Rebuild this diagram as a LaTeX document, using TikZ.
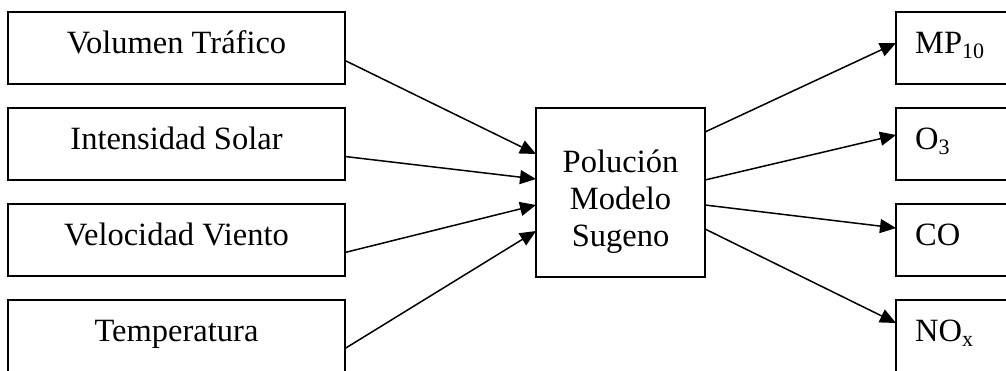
\documentclass[tikz,border=0pt]{standalone}
\usepackage{fontspec}
\setmainfont{Liberation Serif}
\usetikzlibrary{arrows.meta,calc}
% lowered, smaller index text (chemical formulas)
\newcommand{\lowidx}[1]{\raisebox{-5pt}{\fontsize{22}{22}\selectfont #1}}
\begin{document}
\begin{tikzpicture}[x=1pt,y=-1pt,
  box/.style={draw, line width=1.8pt, rectangle, inner sep=0pt, outer sep=0pt, anchor=north west},
  inbox/.style={box, minimum width=337pt, minimum height=72pt},
  outbox/.style={box, minimum width=130pt, minimum height=72pt},
  lbl/.style={anchor=base, inner sep=0pt, font=\fontsize{32.5}{37}\selectfont},
  conn/.style={line width=1.5pt, -{Triangle[length=16pt 0 0,width=14pt 0 0]}}]
\useasboundingbox (0,0) rectangle (1006,370);
\clip (0,0) rectangle (1006,370);

% input variables
\node[inbox] (in1) at (8,12) {};
\node[inbox] (in2) at (8,108) {};
\node[inbox] (in3) at (8,204) {};
\node[inbox] (in4) at (8,300) {};
\node[lbl] (tin1) at ([yshift=-41pt]in1.north) {Volumen Tráfico};
\node[lbl] (tin2) at ([yshift=-41pt]in2.north) {Intensidad Solar};
\node[lbl] (tin3) at ([yshift=-41pt]in3.north) {Velocidad Viento};
\node[lbl] (tin4) at ([yshift=-41pt]in4.north) {Temperatura};

% model
\node[box, minimum width=169pt, minimum height=169pt] (mdl) at (536,108) {};
\node[inner sep=0pt, align=center, font=\fontsize{32.5}{37}\selectfont] (tmdl)
  at ([yshift=-9pt]mdl.center) {Polución\\Modelo\\Sugeno};

% outputs
\node[outbox] (out1) at (896,12) {};
\node[outbox] (out2) at (896,108) {};
\node[outbox] (out3) at (896,204) {};
\node[outbox] (out4) at (896,300) {};
\node[lbl, anchor=base west] (tout1) at ([xshift=19pt,yshift=-41pt]out1.north west) {MP\lowidx{10}};
\node[lbl, anchor=base west] (tout2) at ([xshift=19pt,yshift=-41pt]out2.north west) {O\lowidx{3}};
\node[lbl, anchor=base west] (tout3) at ([xshift=19pt,yshift=-41pt]out3.north west) {CO};
\node[lbl, anchor=base west] (tout4) at ([xshift=19pt,yshift=-41pt]out4.north west) {NO\lowidx{x}};

% connectors into the model
\draw[conn] ([yshift=-48.5pt]in1.north east) -- ([yshift=-46pt]mdl.north west);
\draw[conn] ([yshift=-48.5pt]in2.north east) -- ([yshift=-71pt]mdl.north west);
\draw[conn] ([yshift=-48.5pt]in3.north east) -- ([yshift=-97pt]mdl.north west);
\draw[conn] ([yshift=-48.5pt]in4.north east) -- ([yshift=-123pt]mdl.north west);

% connectors out of the model
\draw[conn] ([yshift=-24pt]mdl.north east) -- ([yshift=-31pt]out1.north west);
\draw[conn] ([yshift=-72pt]mdl.north east) -- ([yshift=-27pt]out2.north west);
\draw[conn] ([yshift=-97pt]mdl.north east) -- ([yshift=-24pt]out3.north west);
\draw[conn] ([yshift=-121pt]mdl.north east) -- ([yshift=-23pt]out4.north west);
\end{tikzpicture}
\end{document}
